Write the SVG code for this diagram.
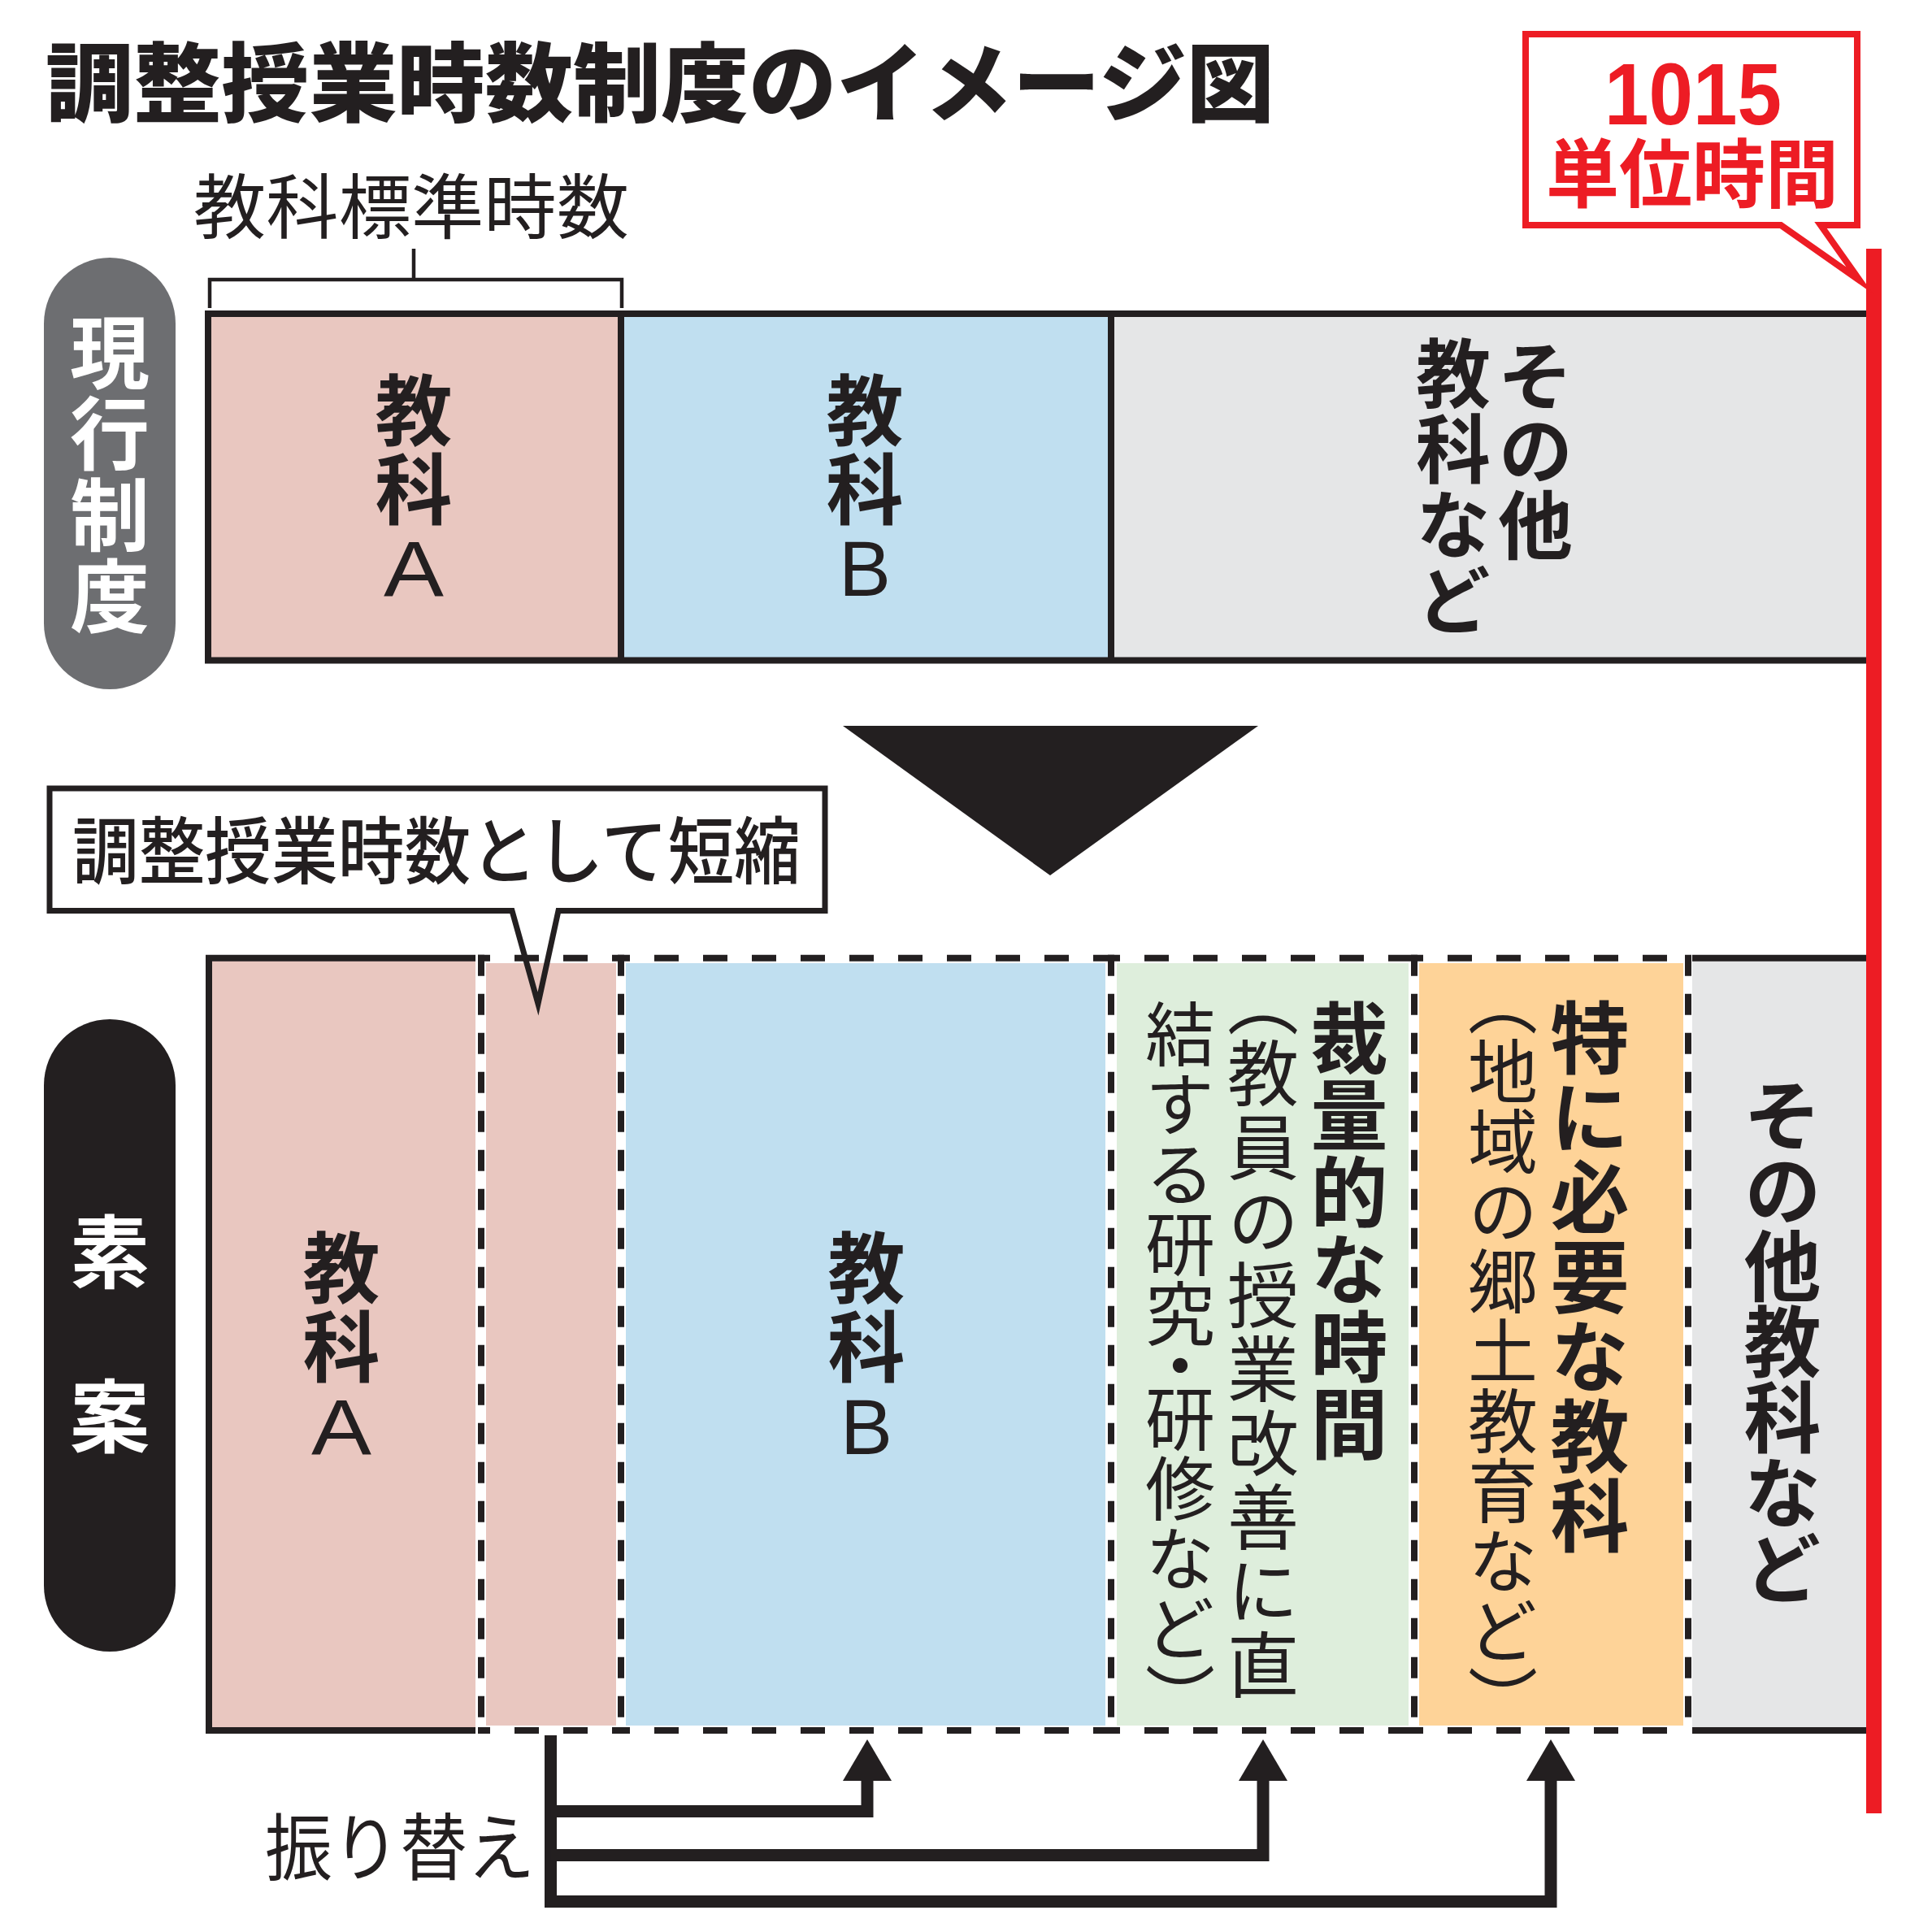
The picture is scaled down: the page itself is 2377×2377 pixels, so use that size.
<svg xmlns="http://www.w3.org/2000/svg" width="2377" height="2377" viewBox="0 0 2377 2377">
<style>
.t{font-family:"Noto Sans CJK JP","Noto Sans CJK SC",sans-serif;fill:#231f20}
.v{writing-mode:vertical-rl;text-orientation:upright}
.b{font-weight:700}
.m{font-weight:500}
.r{font-weight:400}
.w{fill:#ffffff}
.red{fill:#ed1c24}
.lat{font-family:"Liberation Sans",Arial,sans-serif;fill:#231f20;font-weight:400}
.sol{fill:none;stroke:#231f20;stroke-width:8}
.dh{fill:none;stroke:#231f20;stroke-width:8;stroke-dasharray:30 30;stroke-dashoffset:15}
.dv{fill:none;stroke:#231f20;stroke-width:8;stroke-dasharray:26 22}
.pink{fill:#e9c7c0}
.blue{fill:#c0dff0}
.gray{fill:#e5e6e7}
.green{fill:#deeedc}
.orange{fill:#fed398}
.con{fill:none;stroke:#231f20;stroke-width:15;stroke-linejoin:miter}
</style>
<defs>
<marker id="ah" viewBox="0 0 51 60" refX="0" refY="30" markerWidth="51" markerHeight="60" markerUnits="userSpaceOnUse" orient="auto">
<path d="M0 0 L51 30 L0 60 Z" fill="#231f20"/>
</marker>
</defs>
<rect width="2377" height="2377" fill="#ffffff"/>

<g id="title">
<text class="t" x="56" y="141" font-size="106" font-weight="900" textLength="1512" lengthAdjust="spacingAndGlyphs">調整授業時数制度のイメージ図</text>
</g>

<g id="standard-hours">
<text class="t r" x="238" y="287" font-size="87" textLength="536" lengthAdjust="spacingAndGlyphs">教科標準時数</text>
<path d="M258 379 V344 H765 V379 M509 344 V306" fill="none" stroke="#231f20" stroke-width="4.5"/>
</g>

<g id="pill-current">
<rect x="54" y="317" width="162" height="531" rx="81" ry="81" fill="#6d6e71"/>
<text class="t v b w" x="135" y="384 484 584 684" font-size="98">現行制度</text>
</g>

<g id="row-current">
<g id="current-a">
<rect class="pink" x="256" y="386" width="508" height="427"/>
<text class="t v b" x="509" y="457 554" font-size="95">教科</text>
<text class="lat" x="509" y="733" font-size="96" text-anchor="middle" textLength="74" lengthAdjust="spacingAndGlyphs">A</text>
</g>
<g id="current-b">
<rect class="blue" x="764" y="386" width="603" height="427"/>
<text class="t v b" x="1064" y="457 554" font-size="95">教科</text>
<text class="lat" x="1064" y="733" font-size="96" text-anchor="middle">B</text>
</g>
<g id="current-other">
<rect class="gray" x="1367" y="386" width="933" height="427"/>
<text class="t v b" x="1889" y="416 508 600" font-size="92">その他</text>
<text class="t v b" x="1788" y="413 506 599 692" font-size="92">教科など</text>
</g>
<path class="sol" d="M2300 386 H256 V812.5 H2300 M764 386 V812.5 M1367 386 V812.5"/>
</g>

<g id="arrow-down">
<polygon points="1037,893 1548,893 1292,1077" fill="#231f20"/>
</g>

<g id="pill-draft">
<rect x="54" y="1254" width="162" height="778" rx="81" ry="81" fill="#231f20"/>
<text class="t v b w" x="135" y="1491 1693" font-size="98">素案</text>
</g>

<g id="row-draft">
<g id="draft-a">
<rect class="pink" x="256" y="1179" width="329" height="950"/>
<path class="sol" d="M585 1178.7 H257 V2129 H585"/>
<text class="t v b" x="420" y="1512 1609" font-size="95">教科</text>
<text class="lat" x="420" y="1789" font-size="96" text-anchor="middle" textLength="74" lengthAdjust="spacingAndGlyphs">A</text>
</g>
<g id="draft-shortened">
<rect class="pink" x="598" y="1185" width="160" height="938"/>
</g>
<g id="draft-b">
<rect class="blue" x="770" y="1185" width="590" height="938"/>
<text class="t v b" x="1066" y="1512 1609" font-size="95">教科</text>
<text class="lat" x="1066" y="1789" font-size="96" text-anchor="middle">B</text>
</g>
<g id="draft-discretionary">
<rect class="green" x="1374" y="1185" width="359" height="938"/>
<text class="t v b" x="1660" y="1229 1324 1419 1514 1609 1704" font-size="95">裁量的な時間</text>
<text class="t v r" x="1554" y="1188 1276 1367 1458 1549 1640 1731 1822 1913 2004" font-size="88">（教員の授業改善に直</text>
<text class="t v r" x="1452" y="1229 1315 1401 1487 1573 1637 1702 1788 1874 1960 2046" font-size="86">結する研究・研修など）</text>
</g>
<g id="draft-special">
<rect class="orange" x="1746" y="1185" width="325" height="938"/>
<text class="t v b" x="1956" y="1228 1326 1424 1522 1620 1718 1816" font-size="97">特に必要な教科</text>
<text class="t v r" x="1849" y="1189 1275 1361 1447 1533 1619 1705 1791 1877 1963 2049" font-size="86">（地域の郷土教育など）</text>
</g>
<g id="draft-other">
<rect class="gray" x="2082" y="1179" width="218" height="950"/>
<path class="sol" d="M2082 1178.7 H2300 M2082 2129 H2300"/>
<text class="t v b" x="2193" y="1324 1417 1510 1603 1696 1789 1882" font-size="95">その他教科など</text>
</g>
<g id="dashed-borders">
<path class="dh" d="M588 1178.7 H764 M760 1178.7 H1367 M1363 1178.7 H1740 M1736 1178.7 H2077 M588 2129 H764 M760 2129 H1367 M1363 2129 H1740 M1736 2129 H2077"/>
<path class="dv" d="M592 1174.7 V2133 M764 1174.7 V2133 M1367 1174.7 V2133 M1740 1174.7 V2133 M2077 1174.7 V2133"/>
</g>
</g>

<g id="callout-shorten">
<path d="M61 970 H1015 V1120.5 H687 L662 1235 L630 1120.5 H61 Z" fill="none" stroke="#231f20" stroke-width="7" stroke-miterlimit="20"/>
<text class="t m" x="89" y="1080" font-size="90" textLength="896" lengthAdjust="spacingAndGlyphs">調整授業時数として短縮</text>
</g>

<g id="limit-1015">
<rect x="2296" y="306" width="19" height="1925" fill="#ed1c24"/>
<path d="M1877 42 H2285 V277 H2240 L2288 345 L2191 277 H1877 Z" fill="#ffffff" stroke="#ed1c24" stroke-width="8" stroke-miterlimit="20"/>
<text class="red" x="1974" y="153" font-family="'Liberation Sans',Arial,sans-serif" font-weight="700" font-size="107" textLength="218" lengthAdjust="spacingAndGlyphs">1015</text>
<text class="t b red" x="1902" y="248" font-size="92" textLength="360" lengthAdjust="spacingAndGlyphs">単位時間</text>
</g>

<g id="connectors">
<path class="con" d="M677.5 2135 V2339.5 H1908 V2191" marker-end="url(#ah)"/>
<path class="con" d="M677.5 2228.5 H1067 V2191" marker-end="url(#ah)"/>
<path class="con" d="M677.5 2282.5 H1554 V2191" marker-end="url(#ah)"/>
</g>

<g id="transfer-label">
<text class="t r" x="326" y="2306" font-size="90" textLength="332" lengthAdjust="spacingAndGlyphs">振り替え</text>
</g>
</svg>
